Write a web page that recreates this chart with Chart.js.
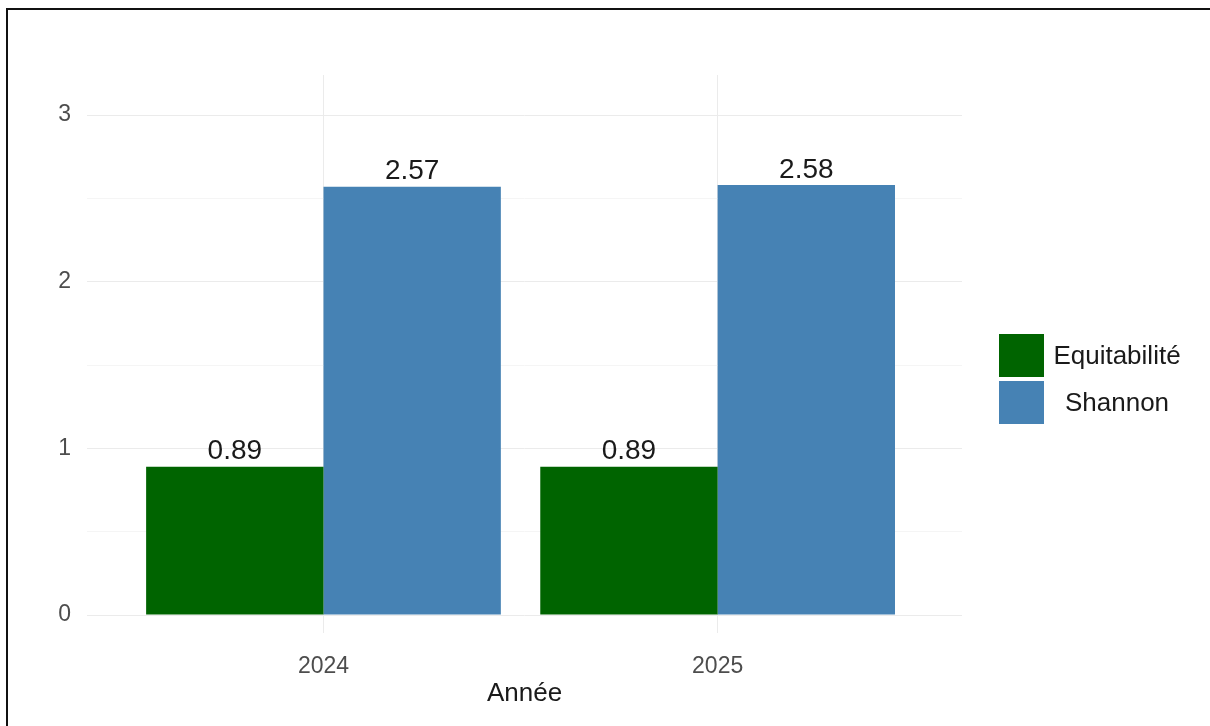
<!DOCTYPE html>
<html>
<head>
<meta charset="utf-8">
<title>Equitabilité et Shannon</title>
<script src="https://cdn.jsdelivr.net/npm/chart.js@4.4.1/dist/chart.umd.min.js"></script>
<style>
  body { margin: 0; background: #fff; }
  .wrap { position: relative; width: 1210px; height: 726px; overflow: hidden; }
  .frame { position: absolute; left: 6px; top: 8px; width: 1300px; height: 800px;
           border-left: 2px solid #111; border-top: 2px solid #111; pointer-events: none; }
  canvas { position: absolute; left: 0; top: 0; }
</style>
</head>
<body>
<div class="wrap">
  <canvas id="chart" width="1210" height="726"></canvas>
  <div class="frame"></div>
</div>
<script>
var years = ["2024", "2025"];
var equitabilite = [0.89, 0.89];
var shannon = [2.57, 2.58];
var yTicks = [0, 0.5, 1, 1.5, 2, 2.5, 3];

var FONT = "'Liberation Sans', Arial, sans-serif";

// data labels above each bar
var barLabels = {
  id: "barLabels",
  afterDatasetsDraw: function (chart) {
    var ctx = chart.ctx;
    ctx.save();
    ctx.font = "28px " + FONT;
    ctx.fillStyle = "#1a1a1a";
    ctx.textAlign = "center";
    ctx.textBaseline = "bottom";
    chart.data.datasets.forEach(function (ds, i) {
      chart.getDatasetMeta(i).data.forEach(function (bar, j) {
        ctx.fillText(ds.data[j].y.toFixed(2), bar.x, bar.y - 1);
      });
    });
    ctx.restore();
  },
};

// ggplot-like legend: boxes with centered labels on the right
var sideLegend = {
  id: "sideLegend",
  afterDraw: function (chart) {
    var ctx = chart.ctx;
    var x = 999, y = 334, w = 45, h = 43, gap = 4;
    ctx.save();
    ctx.font = "26px " + FONT;
    ctx.textAlign = "center";
    ctx.textBaseline = "middle";
    chart.data.datasets.forEach(function (ds, i) {
      var top = y + i * (h + gap);
      ctx.fillStyle = ds.backgroundColor;
      ctx.fillRect(x, top, w, h);
      ctx.fillStyle = "#1a1a1a";
      ctx.fillText(ds.label, 1117, top + h / 2 + 1);
    });
    ctx.restore();
  },
};

function toPoints(values) {
  return values.map(function (v, i) {
    return { x: i + 1, y: v };
  });
}

var ctx = document.getElementById("chart").getContext("2d");
new Chart(ctx, {
  type: "bar",
  data: {
    datasets: [
      {
        label: "Equitabilité",
        data: toPoints(equitabilite),
        backgroundColor: "#006400",
      },
      {
        label: "Shannon",
        data: toPoints(shannon),
        backgroundColor: "#4682B4",
      },
    ],
  },
  options: {
    responsive: false,
    animation: false,
    categoryPercentage: 0.9,
    barPercentage: 1.0,
    layout: {
      padding: { left: 27, top: 75, right: 248, bottom: 13 },
    },
    plugins: {
      legend: { display: false },
      tooltip: { enabled: false },
    },
    scales: {
      x: {
        type: "linear",
        offset: false,
        min: 0.4,
        max: 2.62,
        afterBuildTicks: function (scale) {
          scale.ticks = years.map(function (y, i) {
            return { value: i + 1 };
          });
        },
        afterFit: function (scale) {
          scale.height = 80;
        },
        grid: { offset: false, color: "#EBEBEB", lineWidth: 1, drawTicks: false },
        border: { display: false },
        ticks: {
          padding: 20,
          color: "#4D4D4D",
          font: { family: FONT, size: 23 },
          callback: function (v) {
            return years[v - 1];
          },
        },
        title: {
          display: true,
          text: "Année",
          color: "#1a1a1a",
          font: { family: FONT, size: 26 },
          padding: { top: 0 },
        },
      },
      y: {
        min: -0.108,
        max: 3.24,
        afterBuildTicks: function (scale) {
          scale.ticks = yTicks.map(function (v) {
            return { value: v };
          });
        },
        afterFit: function (scale) {
          scale.width = 60;
        },
        grid: {
          drawTicks: false,
          lineWidth: 1,
          color: function (c) {
            return Number.isInteger(c.tick.value) ? "#EBEBEB" : "#F5F5F5";
          },
        },
        border: { display: false },
        ticks: {
          padding: 16,
          color: "#4D4D4D",
          font: { family: FONT, size: 23 },
          callback: function (v) {
            return Number.isInteger(v) ? v : "";
          },
        },
      },
    },
  },
  plugins: [barLabels, sideLegend],
});
</script>
</body>
</html>
